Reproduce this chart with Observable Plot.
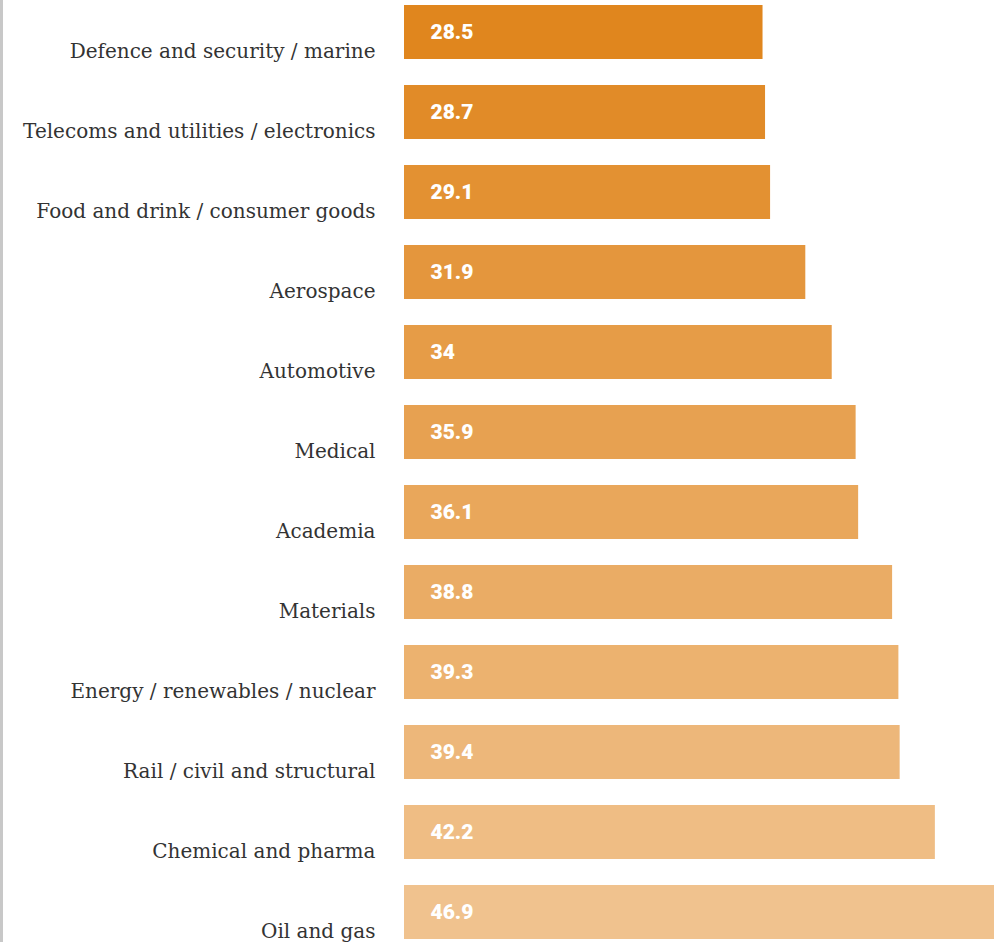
<!DOCTYPE html>
<html>
<head>
<meta charset="utf-8">
<script src="https://cdn.jsdelivr.net/npm/d3@7"></script>
<script src="https://cdn.jsdelivr.net/npm/@observablehq/plot@0.6"></script>
<style>
  html, body { margin: 0; padding: 0; background: #fff; }
  #chart { position: relative; width: 998px; height: 942px; }
  #rule { position: absolute; left: 0; top: 0; width: 3px; height: 942px; background: #c8c8c8; }
</style>
</head>
<body>
<div id="chart"><div id="rule"></div></div>
<script>
const sectors = [
  "Defence and security / marine",
  "Telecoms and utilities / electronics",
  "Food and drink / consumer goods",
  "Aerospace",
  "Automotive",
  "Medical",
  "Academia",
  "Materials",
  "Energy / renewables / nuclear",
  "Rail / civil and structural",
  "Chemical and pharma",
  "Oil and gas"
];
const values = [28.5, 28.7, 29.1, 31.9, 34, 35.9, 36.1, 38.8, 39.3, 39.4, 42.2, 46.9];

const data = sectors.map((s, i) => ({sector: s, value: values[i], rank: i}));

const plot = Plot.plot({
  width: 998,
  height: 942,
  marginLeft: 404,
  marginRight: 4,
  marginTop: 5,
  marginBottom: 3,
  x: {domain: [0, 46.9], axis: null},
  y: {domain: sectors, paddingInner: 0.325, paddingOuter: 0, axis: null},
  color: {type: "linear", domain: [0, 11], range: ["#e0861e", "#f0c28e"], interpolate: "rgb"},
  style: {background: "transparent"},
  marks: [
    Plot.barX(data, {x: "value", y: "sector", fill: "rank"}),
    Plot.text(data, {
      x: 0, y: "sector", text: d => String(d.value),
      textAnchor: "start", dx: 26, fill: "white",
      fontFamily: "Roboto, Liberation Sans, Arial, sans-serif", fontWeight: 900, fontSize: 21
    }),
    Plot.text(data, {
      x: 0, y: "sector", text: "sector",
      textAnchor: "end", dx: -29, dy: 19, fill: "#333",
      fontFamily: "DejaVu Serif, serif", fontSize: 20
    })
  ]
});
plot.style.position = "absolute";
plot.style.left = "0";
plot.style.top = "0";
document.getElementById("chart").appendChild(plot);
</script>
</body>
</html>
